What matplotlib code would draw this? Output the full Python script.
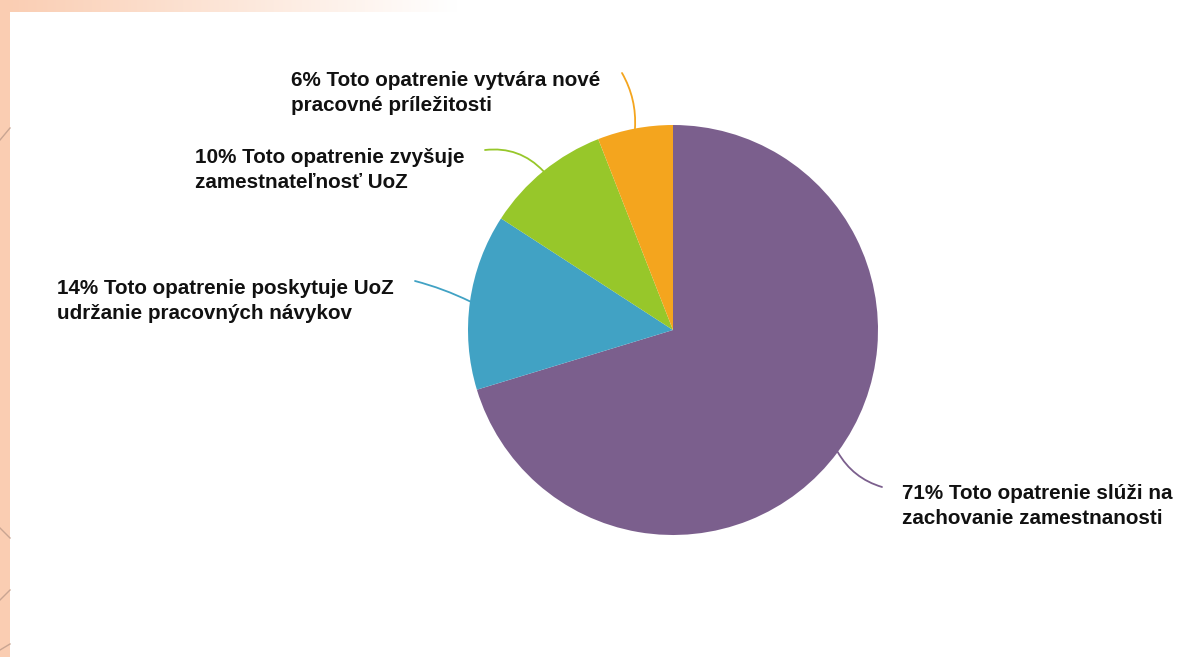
import numpy as np
import matplotlib.pyplot as plt

values = [71, 14, 10, 6]
labels = [
    "71% Toto opatrenie slúži na\nzachovanie zamestnanosti",
    "14% Toto opatrenie poskytuje UoZ\nudržanie pracovných návykov",
    "10% Toto opatrenie zvyšuje\nzamestnateľnosť UoZ",
    "6% Toto opatrenie vytvára nové\npracovné príležitosti",
]
colors = ["#7b5f8d", "#41a2c4", "#97c72a", "#f4a51e"]

# label text anchor (left edge, block centre) and leader end, in pixels from top-left
text_pos = [(902, 506), (57, 301), (195, 170), (291, 93)]
leader_end = [(882, 487), (415, 281), (485, 150), (622, 73)]
leader_rad = [-0.2, -0.05, -0.25, -0.15]

W, H = 1177, 657
fig = plt.figure(figsize=(W / 100, H / 100), dpi=100)
ax = fig.add_axes([0, 0, 1, 1])

# peach frame on the left and a fading band along the top
band = np.linspace(0, 1, 256)
top = np.ones((1, 256, 3))
peach = np.array([250, 205, 178]) / 255
for i in range(3):
    top[0, :, i] = peach[i] + (1 - peach[i]) * np.clip(band * 1.05, 0, 1)
ax.imshow(top, extent=(0, 480, H - 12, H), aspect="auto", zorder=0)
ax.add_patch(plt.Rectangle((0, 0), 10, H, color=(250 / 255, 205 / 255, 178 / 255), lw=0, zorder=1))
for y0, y1 in [(140, 128), (528, 538), (600, 590), (650, 644)]:
    ax.plot([0, 10], [H - y0, H - y1], color="#c9a592", lw=1, zorder=1)

cx, cy, r = 673, H - 330, 205
wedges, _ = ax.pie(values, colors=colors, startangle=90, counterclock=False,
                   center=(cx, cy), radius=r, frame=True,
                   wedgeprops=dict(linewidth=0))

for w, lab, (tx, ty), (ex, ey), rad, col in zip(wedges, labels, text_pos, leader_end, leader_rad, colors):
    ang = np.deg2rad((w.theta1 + w.theta2) / 2)
    px, py = cx + r * np.cos(ang), cy + r * np.sin(ang)
    ax.annotate("", xy=(px, py), xytext=(ex, H - ey),
                arrowprops=dict(arrowstyle="-", color=col, lw=1.3,
                                shrinkA=0, shrinkB=0,
                                connectionstyle=f"arc3,rad={rad}"))
    ax.text(tx, H - ty, lab, ha="left", va="center", fontsize=14.9,
            fontweight="bold", family="Liberation Sans", color="#111111",
            linespacing=1.45)

ax.set_xlim(0, W)
ax.set_ylim(0, H)
ax.set_aspect("equal")
ax.axis("off")

fig.savefig("out.png", dpi=100)
